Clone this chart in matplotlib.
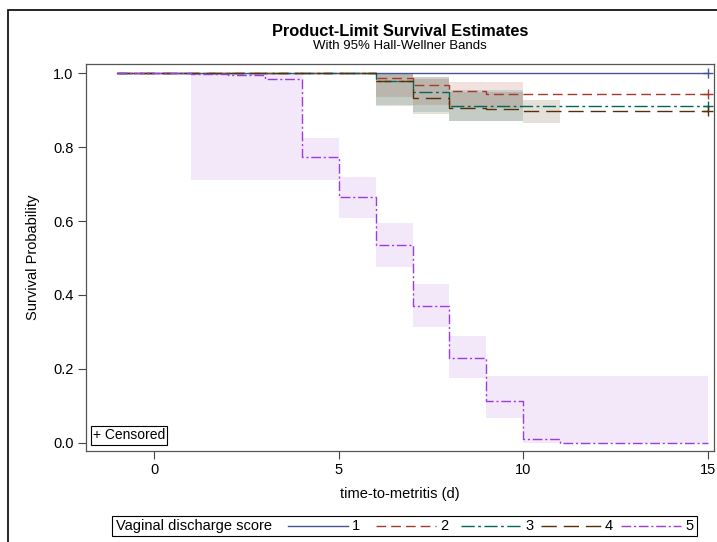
import numpy as np
import matplotlib.pyplot as plt
from matplotlib.lines import Line2D
from matplotlib.patches import Rectangle

plt.rcParams['font.family'] = ['Liberation Sans', 'DejaVu Sans']

W, H = 717, 542

groups = ['1', '2', '3', '4', '5']
colors = ['#445694', '#A23A2E', '#01665E', '#543005', '#9D3CDB']
dashes = [None, (7, 3.6), (9.5, 2.5, 2, 2.5), (11, 5), (7, 2, 1.5, 2)]

# Kaplan-Meier step curves (time, survival)
times = {
    '1': [-1, 15],
    '2': [-1, 6, 7, 8, 9, 15],
    '3': [-1, 6, 7, 8, 15],
    '4': [-1, 6, 7, 8, 9, 10, 15],
    '5': [-1, 1, 2, 3, 4, 5, 6, 7, 8, 9, 10, 11, 15],
}
surv = {
    '1': [1.0, 1.0],
    '2': [1.0, 0.988, 0.967, 0.952, 0.945, 0.945],
    '3': [1.0, 0.980, 0.948, 0.911, 0.911],
    '4': [1.0, 0.978, 0.933, 0.906, 0.902, 0.897, 0.897],
    '5': [1.0, 0.998, 0.995, 0.985, 0.772, 0.666, 0.535, 0.371, 0.228, 0.113, 0.009, 0.0, 0.0],
}
censored = {'1': True, '2': True, '3': True, '4': True, '5': False}

# Hall-Wellner band segments
band_edges = {
    '2': [6, 7, 8, 10],
    '3': [6, 7, 8, 10],
    '4': [6, 7, 8, 10, 11],
    '5': [1, 4, 5, 6, 7, 8, 9, 10, 15],
}
band_lo = {
    '2': [0.935, 0.915, 0.905],
    '3': [0.915, 0.895, 0.870],
    '4': [0.910, 0.890, 0.872, 0.864],
    '5': [0.711, 0.711, 0.607, 0.476, 0.314, 0.174, 0.066, 0.0],
}
band_hi = {
    '2': [1.0, 0.990, 0.975],
    '3': [1.0, 0.990, 0.955],
    '4': [1.0, 0.985, 0.950, 0.927],
    '5': [1.0, 0.824, 0.720, 0.594, 0.430, 0.289, 0.181, 0.181],
}

fig = plt.figure(figsize=(W / 100, H / 100), dpi=100)
ax = fig.add_axes([86 / W, 1 - 451 / H, (714 - 86) / W, (451 - 64) / H])

for g, c in zip(groups, colors):
    if g in band_edges:
        lo = band_lo[g] + [band_lo[g][-1]]
        hi = band_hi[g] + [band_hi[g][-1]]
        a = 0.12 if g == '5' else 0.15
        ax.fill_between(band_edges[g], lo, hi, step='post', color=c, alpha=a, lw=0, zorder=1)

for g, c, d in zip(groups, colors, dashes):
    ln, = ax.step(times[g], surv[g], where='post', color=c, lw=1.0, zorder=3)
    if d is not None:
        ln.set_dashes(d)
    if censored[g]:
        ax.plot(times[g][-1], surv[g][-1], marker='+', ms=7, mew=1.0, color=c, ls='none', zorder=4)

ax.set_xlim(-1.85, 15.17)
ax.set_ylim(-0.0225, 1.025)
ax.set_xticks([0, 5, 10, 15])
ax.set_yticks([0.0, 0.2, 0.4, 0.6, 0.8, 1.0])
ax.set_yticklabels(['0.0', '0.2', '0.4', '0.6', '0.8', '1.0'])
ax.tick_params(direction='out', length=6, width=0.8, color='#444444', labelsize=10.5, pad=3)
for sp in ax.spines.values():
    sp.set_color('#555555')
    sp.set_linewidth(0.9)
ax.set_xlabel('time-to-metritis (d)', fontsize=10.5, labelpad=7)
ax.set_ylabel('Survival Probability', fontsize=10.5, labelpad=9)

ax.text(0.011, 0.022, '+ Censored', transform=ax.transAxes, fontsize=10, va='bottom', ha='left',
        bbox=dict(boxstyle='square,pad=0.15', fc='white', ec='black', lw=0.8), zorder=5)

fig.text(400 / W, 1 - 32 / H, 'Product-Limit Survival Estimates', ha='center', va='center',
         fontsize=11.8, fontweight='bold')
fig.text(400 / W, 1 - 46 / H, 'With 95% Hall-Wellner Bands', ha='center', va='center', fontsize=9.5)

# legend row at the bottom
ly = 1 - 526 / H
fig.patches.append(Rectangle((112 / W, 1 - 536 / H), (697 - 112) / W, 20 / H, transform=fig.transFigure,
                             fill=False, ec='black', lw=0.8))
fig.text(116 / W, ly, 'Vaginal discharge score', ha='left', va='center', fontsize=10.5)
line_x = [288, 376, 461, 541, 621]
for g, c, d, x0 in zip(groups, colors, dashes, line_x):
    l = Line2D([x0 / W, (x0 + 60) / W], [ly, ly], transform=fig.transFigure, color=c, lw=1.0)
    if d is not None:
        l.set_dashes(d)
    fig.lines.append(l)
    fig.text((x0 + 64) / W, ly, g, ha='left', va='center', fontsize=10.5)

# outer border of the graph
fig.patches.append(Rectangle((8 / W, -0.1), 1.2, 1.1 - 10 / H, transform=fig.transFigure,
                             fill=False, ec='black', lw=1.2))

fig.savefig('out.png', dpi=100)
